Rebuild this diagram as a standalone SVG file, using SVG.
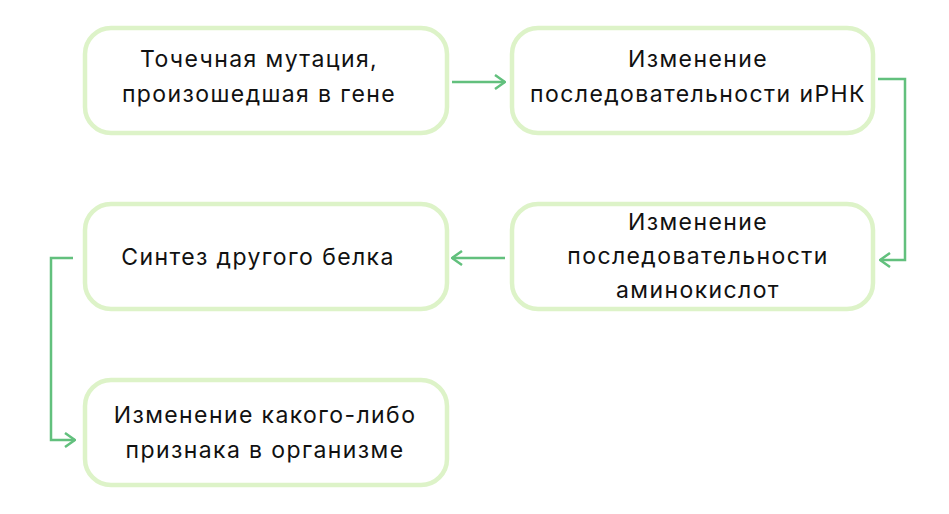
<svg xmlns="http://www.w3.org/2000/svg" width="949" height="514" viewBox="0 0 949 514">
<defs>
<style>
.box{fill:#fff;stroke:#ddf3c8;stroke-width:4.5}
.t{font-family:Inter,"Noto Sans",sans-serif;font-size:23px;letter-spacing:1.4px;fill:#111;text-anchor:middle}
.c{fill:none;stroke:#62c07d;stroke-width:2.5}
</style>
<marker id="ah" viewBox="0 0 12 16" refX="11" refY="8" markerWidth="12" markerHeight="16" markerUnits="userSpaceOnUse" orient="auto">
<path d="M1,1 L11,8 L1,15" fill="none" stroke="#62c07d" stroke-width="2.5"/>
</marker>
</defs>
<rect width="949" height="514" fill="#fff"/>
<g id="n1"><rect class="box" x="85" y="28" width="362" height="105" rx="26"/>
<text class="t" x="259" y="67">Точечная мутация,</text><text class="t" x="259" y="102">произошедшая в гене</text></g>
<g id="n2"><rect class="box" x="512" y="28" width="361" height="105" rx="26"/>
<text class="t" x="698" y="67">Изменение</text><text class="t" x="698" y="102">последовательности иРНК</text></g>
<g id="n3"><rect class="box" x="85" y="204" width="362" height="105" rx="26"/>
<text class="t" x="258" y="265">Синтез другого белка</text></g>
<g id="n4"><rect class="box" x="512" y="204" width="361" height="105" rx="26"/>
<text class="t" x="698" y="230">Изменение</text><text class="t" x="698" y="264">последовательности</text><text class="t" x="698" y="298">аминокислот</text></g>
<g id="n5"><rect class="box" x="85" y="380" width="362" height="105" rx="26"/>
<text class="t" x="265" y="423">Изменение какого-либо</text><text class="t" x="265" y="458">признака в организме</text></g>
<g id="connectors">
<path class="c" d="M452,82 H505" marker-end="url(#ah)"/>
<path class="c" d="M878,79 H905 V260 H880" marker-end="url(#ah)"/>
<path class="c" d="M505,258 H452" marker-end="url(#ah)"/>
<path class="c" d="M73,258 H51 V440 H75" marker-end="url(#ah)"/>
</g>
</svg>
